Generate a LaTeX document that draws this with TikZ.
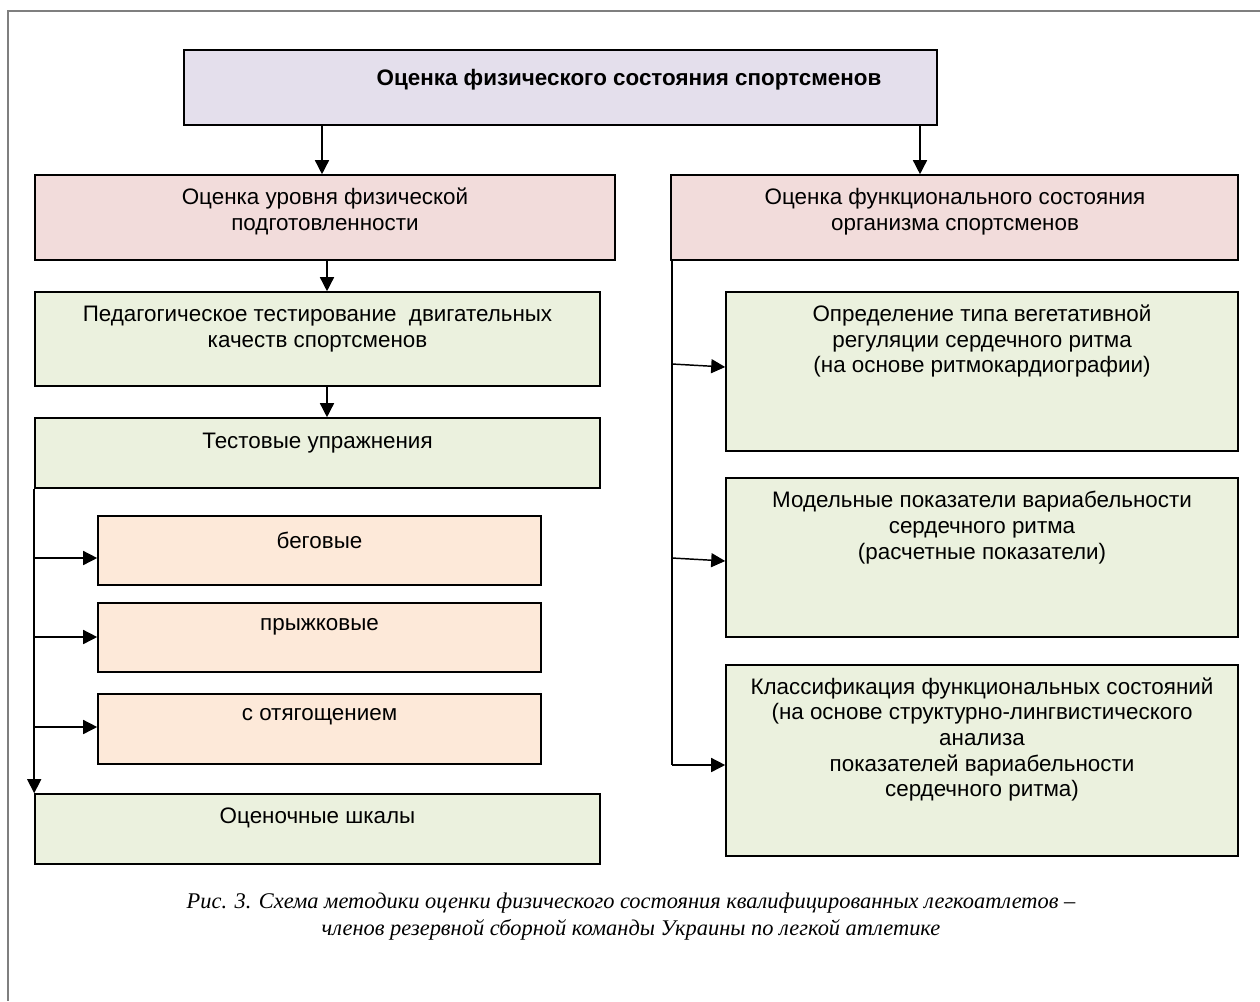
\documentclass[tikz,border=0pt]{standalone}
\usepackage{fontspec}
\setmainfont{Liberation Sans}
\newfontfamily\capfont{Liberation Serif}
\usetikzlibrary{arrows.meta,fit}

\definecolor{lavbox}{HTML}{E4DFEC}
\definecolor{pinkbox}{HTML}{F2DCDB}
\definecolor{greenbox}{HTML}{EBF1DE}
\definecolor{peachbox}{HTML}{FDE9D9}
\definecolor{framegray}{HTML}{7F7F7F}

\begin{document}
\begin{tikzpicture}[x=0.75pt,y=-0.75pt,
  box/.style={draw=black,line width=1.2pt,inner sep=0pt,rectangle},
  lav/.style={box,fill=lavbox},
  pnk/.style={box,fill=pinkbox},
  grn/.style={box,fill=greenbox},
  pch/.style={box,fill=peachbox},
  txt/.style={align=center,inner sep=0pt,font=\fontsize{16.8}{19.2}\selectfont},
  arr/.style={line width=1.1pt,-{Triangle[length=10.5pt,width=10.5pt]}},
  link/.style={line width=1.1pt}]
\useasboundingbox (0,0) rectangle (1260,1001);

% page frame
\draw[framegray,line width=1.1pt] (1260,11) -- (8,11) -- (8,1001);

% top level
\node[lav,fit={(184,50)(937,125)}] (top) {};
\node[txt,font=\fontsize{16.8}{19.2}\selectfont\bfseries] (top-t) at (629,80) {Оценка физического состояния спортсменов};

% second level
\node[pnk,fit={(35,175)(615,260)}] (phys) {};
\node[txt] (phys-t) at (325,211.5) {Оценка уровня физической\\подготовленности};
\node[pnk,fit={(671,175)(1238,260)}] (func) {};
\node[txt] (func-t) at (955,211.5) {Оценка функционального состояния\\организма спортсменов};

% left branch
\node[grn,fit={(35,292)(600,386)}] (ped) {};
\node[txt] (ped-t) at (317.5,329) {Педагогическое тестирование \ двигательных\\качеств спортсменов};
\node[grn,fit={(35,418)(600,488)}] (tests) {};
\node[txt] (tests-t) at (317.5,443) {Тестовые упражнения};
\node[pch,fit={(98,516)(541,585)}] (run) {};
\node[txt] (run-t) at (319.5,540) {беговые};
\node[pch,fit={(98,603)(541,672)}] (jump) {};
\node[txt] (jump-t) at (319.5,627) {прыжковые};
\node[pch,fit={(98,694)(541,764)}] (load) {};
\node[txt] (load-t) at (319.5,717) {с отягощением};
\node[grn,fit={(35,794)(600,864)}] (scale) {};
\node[txt] (scale-t) at (317.5,818) {Оценочные шкалы};

% right branch
\node[grn,fit={(726,292)(1238,451)}] (veg) {};
\node[txt] (veg-t) at (982,341) {Определение типа вегетативной\\регуляции сердечного ритма\\(на основе ритмокардиографии)};
\node[grn,fit={(726,478)(1238,637)}] (model) {};
\node[txt] (model-t) at (982,527.5) {Модельные показатели вариабельности\\сердечного ритма\\(расчетные показатели)};
\node[grn,fit={(726,665)(1238,856)}] (cls) {};
\node[txt] (cls-t) at (982,739.5) {Классификация функциональных состояний\\(на основе структурно-лингвистического\\анализа\\показателей вариабельности\\сердечного ритма)};

% caption
\node[align=center,inner sep=0pt,font=\capfont\itshape\fontsize{16.8}{20.3}\selectfont] (cap) at (631,916.5)
  {Рис. 3. Схема методики оценки физического состояния квалифицированных легкоатлетов –\\членов резервной сборной команды Украины по легкой атлетике};

% connectors from the top box
\draw[arr] (top.south -| 322,0) -- (phys.north -| 322,0);
\draw[arr] (top.south -| 920,0) -- (func.north -| 920,0);

% left chain
\draw[arr] (phys.south -| 327,0) -- (ped.north -| 327,0);
\draw[arr] (ped.south -| 327,0) -- (tests.north -| 327,0);
\draw[arr] (tests.south west) -- (scale.north west);
\coordinate (l1) at (35,558);
\coordinate (l2) at (35,637);
\coordinate (l3) at (35,727);
\draw[arr] (l1) -- (run.west |- l1);
\draw[arr] (l2) -- (jump.west |- l2);
\draw[arr] (l3) -- (load.west |- l3);

% right chain
\coordinate (r1) at (672,364);
\coordinate (r2) at (672,558);
\coordinate (r3) at (672,765);
\draw[link] (func.south -| r1) -- (r3);
\draw[arr] (r1) -- (veg.west |- 0,367);
\draw[arr] (r2) -- (model.west |- 0,561);
\draw[arr] (r3) -- (cls.west |- r3);
\end{tikzpicture}
\end{document}
